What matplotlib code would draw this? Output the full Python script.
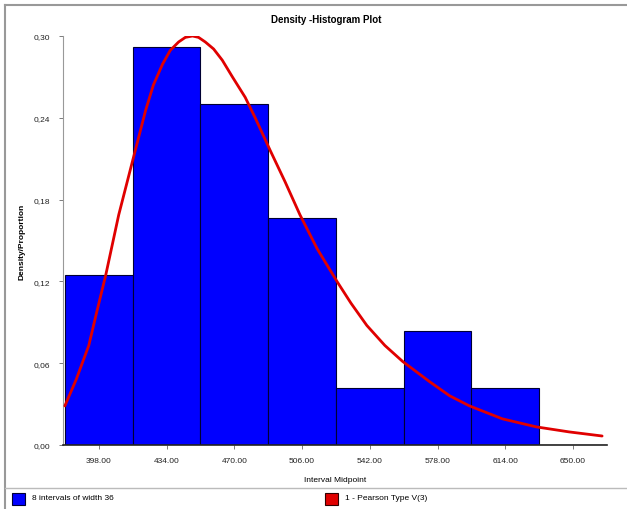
import numpy as np
import matplotlib.pyplot as plt
from matplotlib.patches import Rectangle
from matplotlib.lines import Line2D

# interval midpoints (width 36) and proportions
midpoints = [398, 434, 470, 506, 542, 578, 614, 650]
proportions = [0.125, 0.2917, 0.25, 0.1667, 0.0417, 0.0833, 0.0417, 0.0]
bin_width = 36

# fitted Pearson Type V curve
curve_x = [380.0, 386.0, 392.7, 397.0, 401.7, 408.6, 416.0, 422.9, 427.0, 431.9,
           436.0, 440.4, 444.0, 447.8, 451.0, 454.6, 459.0, 463.6, 469.0, 475.8,
           481.1, 489.1, 497.0, 504.9, 514.0, 524.5, 532.0, 540.4, 550.0, 559.5,
           573.8, 584.4, 594.9, 612.4, 630.4, 647.9, 665.4]
curve_y = [0.0287, 0.0480, 0.0730, 0.0980, 0.1246, 0.1688, 0.2086, 0.2455, 0.2640, 0.2794,
           0.2895, 0.2956, 0.2990, 0.3000, 0.2990, 0.2956, 0.2905, 0.2823, 0.2700, 0.2550,
           0.2400, 0.2160, 0.1930, 0.1688, 0.1440, 0.1201, 0.1040, 0.0877, 0.0730, 0.0612,
           0.0464, 0.0361, 0.0287, 0.0192, 0.0133, 0.0096, 0.0066]

y_ticks = [0.0, 0.06, 0.12, 0.18, 0.24, 0.30]

plt.rcParams['font.family'] = ['Liberation Sans', 'DejaVu Sans']

fig = plt.figure(figsize=(6.27, 5.10), dpi=100)
ax = fig.add_axes([63 / 627, 1 - 446 / 510, 544 / 627, 409 / 510])

ax.bar(midpoints, proportions, width=bin_width, color='#0000ff',
       edgecolor='#000033', linewidth=0.8, zorder=2)
ax.plot(curve_x, curve_y, color='#e00000', linewidth=2.0, zorder=3,
        solid_joinstyle='round', solid_capstyle='round')

ax.set_xlim(379, 668)
ax.set_ylim(0, 0.3)
ax.set_xticks(midpoints)
ax.set_xticklabels([f'{m:.2f}' for m in midpoints], fontsize=6, color='#222222')
ax.set_yticks(y_ticks)
ax.set_yticklabels([f'{v:.2f}'.replace('.', ',') for v in y_ticks], fontsize=6, color='#222222')
ax.tick_params(length=3, width=0.6, color='#666666', pad=6)

for s in ['top', 'right']:
    ax.spines[s].set_visible(False)
ax.spines['left'].set_color('#999999')
ax.spines['bottom'].set_color('#222222')
ax.spines['bottom'].set_linewidth(1.2)

ax.set_xlabel('Interval Midpoint', fontsize=6, labelpad=8)
ax.set_ylabel('Density/Proportion', fontsize=6, fontweight='bold', labelpad=6)
fig.text(0.5 + 0.02, 1 - 20 / 510, 'Density -Histogram Plot', ha='center', va='center',
         fontsize=7, fontweight='bold')

# outer frame and legend separator
fig.add_artist(Line2D([5 / 627, 1], [1 - 6 / 510] * 2, color='#999999', linewidth=1.5))
fig.add_artist(Line2D([5 / 627] * 2, [0, 1 - 6 / 510], color='#999999', linewidth=1.5))
fig.add_artist(Line2D([5 / 627, 1], [1 - 489 / 510] * 2, color='#bbbbbb', linewidth=1))

# legend row
fig.add_artist(Rectangle((12 / 627, 1 - 506 / 510), 13 / 627, 12 / 510,
                         facecolor='#0000ff', edgecolor='#000033', linewidth=0.8))
fig.text(32 / 627, 1 - 499 / 510, '8 intervals of width 36', fontsize=6, va='center')
fig.add_artist(Rectangle((325 / 627, 1 - 506 / 510), 13 / 627, 12 / 510,
                         facecolor='#e00000', edgecolor='#330000', linewidth=0.8))
fig.text(345 / 627, 1 - 499 / 510, '1 - Pearson Type V(3)', fontsize=6, va='center')

fig.savefig('out.png', dpi=100)
